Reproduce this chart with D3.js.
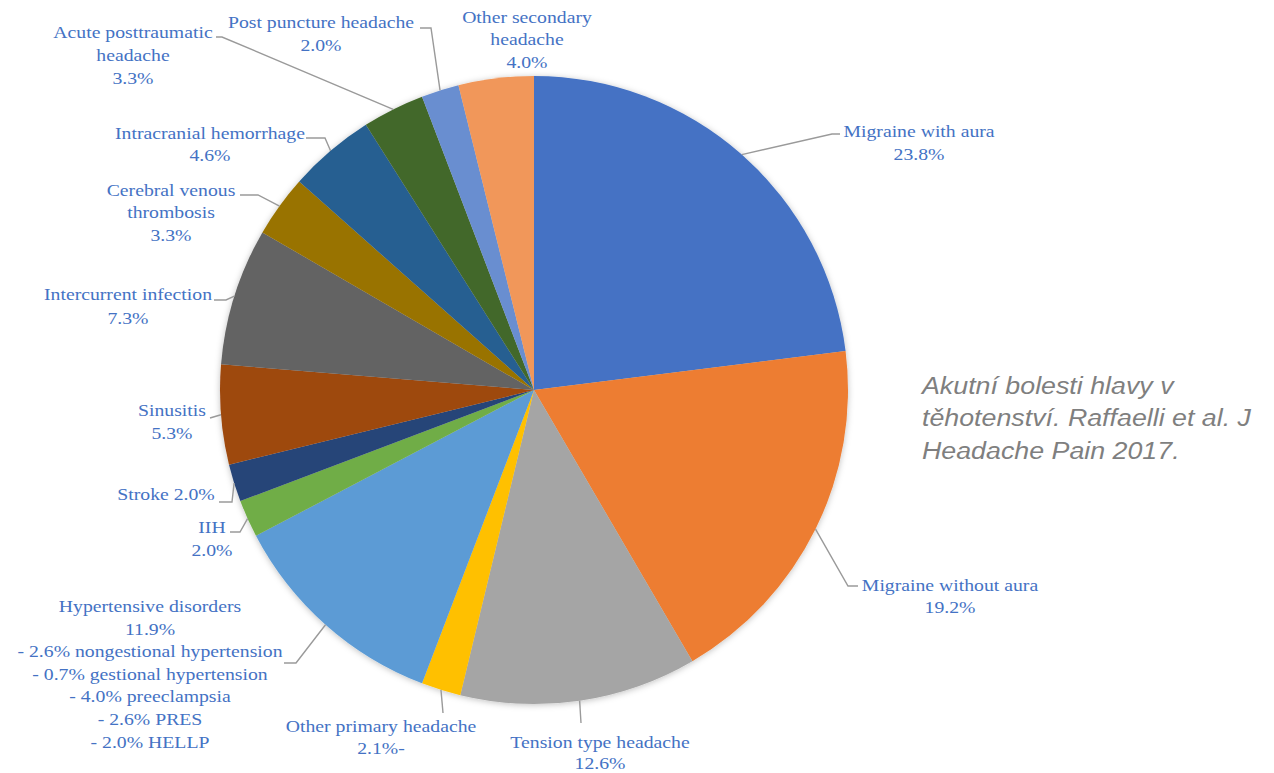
<!DOCTYPE html>
<html><head><meta charset="utf-8">
<script src="https://cdn.jsdelivr.net/npm/d3@7/dist/d3.min.js"></script>
<style>body{margin:0;background:#fff;}svg{display:block;}</style>
</head><body>
<script>
// ---- data ----
const categories = ["Migraine with aura","Migraine without aura","Tension type headache","Other primary headache","Hypertensive disorders","IIH","Stroke","Sinusitis","Intercurrent infection","Cerebral venous thrombosis","Intracranial hemorrhage","Acute posttraumatic headache","Post puncture headache","Other secondary headache"];
const values = [23.8,19.2,12.6,2.1,11.9,2.0,2.0,5.3,7.3,3.3,4.6,3.3,2.0,4.0];
const labelLines = [
  ["Migraine with aura","23.8%"],
  ["Migraine without aura","19.2%"],
  ["Tension type headache","12.6%"],
  ["Other primary headache","2.1%-"],
  ["Hypertensive disorders","11.9%","- 2.6% nongestional hypertension","- 0.7% gestional hypertension","- 4.0% preeclampsia","- 2.6% PRES","- 2.0% HELLP"],
  ["IIH","2.0%"],
  ["Stroke 2.0%"],
  ["Sinusitis","5.3%"],
  ["Intercurrent infection","7.3%"],
  ["Cerebral venous","thrombosis","3.3%"],
  ["Intracranial hemorrhage","4.6%"],
  ["Acute posttraumatic","headache","3.3%"],
  ["Post puncture headache","2.0%"],
  ["Other secondary","headache","4.0%"]
];
const colors = ["#4472C4","#ED7D31","#A5A5A5","#FFC000","#5B9BD5","#70AD47","#264478","#9E480E","#636363","#997300","#255E91","#43682B","#698ED0","#F1975A"];
const noteLines = ["Akutní bolesti hlavy v","těhotenství. Raffaelli et al. J","Headache Pain 2017."];

// ---- layout (label anchor: center x, first baseline y, leader elbow & end) ----
const labelLayout = [
  {x:919,y:137,lh:23,elbow:[832,134],end:[840,134]},
  {x:950,y:591,lh:22,elbow:[848,586],end:[858,586]},
  {x:600,y:748,lh:21,elbow:null,end:[581,723]},
  {x:381,y:732,lh:22,elbow:null,end:[443,713]},
  {x:150,y:612,lh:22.6,elbow:[296,663],end:[284,663]},
  {x:212,y:533,lh:23,elbow:[240,532],end:[230,532]},
  {x:166,y:500,lh:22,elbow:[232,502],end:[219,502]},
  {x:172,y:416,lh:23,elbow:null,end:[210,418]},
  {x:128,y:300,lh:24,elbow:[226,300],end:[214,300]},
  {x:171,y:196,lh:22.5,elbow:[258,195],end:[240,195]},
  {x:210,y:139,lh:22,elbow:[325,138],end:[306,138]},
  {x:133,y:38,lh:23,elbow:[222,37],end:[216,37]},
  {x:321,y:28,lh:23,elbow:[431,28],end:[420,28]},
  {x:527,y:23,lh:22.5,elbow:null,end:null}
];

const W=1274,H=773, cx=534, cy=390, R=314, SX=1.16;
const svg=d3.select("body").append("svg").attr("width",W).attr("height",H);
const defs=svg.append("defs");
const f=defs.append("filter").attr("id","sh").attr("x","-10%").attr("y","-10%").attr("width","120%").attr("height","120%");
f.append("feDropShadow").attr("dx",0).attr("dy",1).attr("stdDeviation",3).attr("flood-color","#000").attr("flood-opacity",0.25);

const data = categories.map((c,i)=>({name:c,value:values[i],i}));
const pie=d3.pie().value(d=>d.value).sort(null);
const arcs=pie(data);
const arc=d3.arc().innerRadius(0).outerRadius(R);

const g=svg.append("g").attr("transform",`translate(${cx},${cy})`);
g.append("g").attr("filter","url(#sh)").selectAll("path").data(arcs).join("path")
  .attr("d",arc).attr("fill",d=>colors[d.data.i]);

// leader lines
const lines=svg.append("g").attr("fill","none").attr("stroke","#9a9a9a").attr("stroke-width",1.4);
arcs.forEach((a,i)=>{
  const L=labelLayout[i];
  if(!L.end) return;
  const m=(a.startAngle+a.endAngle)/2;
  const p0=[cx+R*Math.sin(m), cy-R*Math.cos(m)];
  const pts=[p0];
  if(L.elbow) pts.push(L.elbow);
  pts.push(L.end);
  lines.append("path").attr("d",d3.line()(pts));
});

// labels
const lab=svg.append("g").attr("font-family","'Liberation Serif','Times New Roman',serif")
  .attr("font-size",17).attr("fill","#4472C4").attr("text-anchor","middle");
arcs.forEach((a,i)=>{
  const L=labelLayout[i];
  const t=lab.append("text").attr("transform",`translate(${L.x},0) scale(${SX},1)`);
  labelLines[i].forEach((s,k)=>{
    t.append("tspan").attr("x",0).attr("y",L.y+k*L.lh).text(s);
  });
});

// note
const nt=svg.append("text").attr("font-family","'Liberation Sans',Arial,sans-serif")
  .attr("transform","translate(922,0) scale(1.14,1)")
  .attr("font-style","italic").attr("font-size",23.5).attr("fill","#7f7f7f");
noteLines.forEach((s,k)=>nt.append("tspan").attr("x",0).attr("y",394+k*32.5).text(s));
</script>
</body></html>
